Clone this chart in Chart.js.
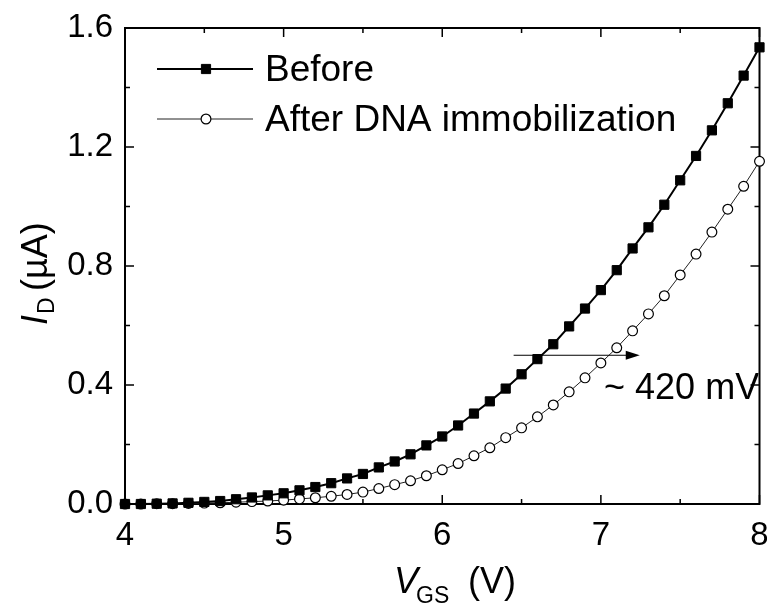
<!DOCTYPE html>
<html>
<head>
<meta charset="utf-8">
<script src="https://cdn.jsdelivr.net/npm/chart.js@4.4.0/dist/chart.umd.min.js"></script>
<style>
  html, body { margin: 0; padding: 0; background: #fff; }
  #wrap { width: 767px; height: 605px; }
</style>
</head>
<body>
<div id="wrap"><canvas id="curvaId" width="767" height="605"></canvas></div>
<script>
// V_GS sweep (V)
const vgs = [4.0, 4.1, 4.2, 4.3, 4.4, 4.5, 4.6, 4.7, 4.8, 4.9,
             5.0, 5.1, 5.2, 5.3, 5.4, 5.5, 5.6, 5.7, 5.8, 5.9,
             6.0, 6.1, 6.2, 6.3, 6.4, 6.5, 6.6, 6.7, 6.8, 6.9,
             7.0, 7.1, 7.2, 7.3, 7.4, 7.5, 7.6, 7.7, 7.8, 7.9, 8.0];

// I_D (uA) before DNA
const idBefore = [0.000, 0.000, 0.001, 0.002, 0.004, 0.007, 0.010, 0.016, 0.022, 0.029,
                  0.036, 0.046, 0.057, 0.070, 0.086, 0.101, 0.123, 0.143, 0.167, 0.197,
                  0.227, 0.264, 0.304, 0.345, 0.388, 0.436, 0.487, 0.537, 0.597, 0.657,
                  0.719, 0.786, 0.859, 0.930, 1.006, 1.088, 1.170, 1.256, 1.347, 1.440, 1.535];

// I_D (uA) after DNA immobilization
const idAfter = [0.000, 0.000, 0.001, 0.001, 0.002, 0.003, 0.004, 0.006, 0.008, 0.010,
                 0.013, 0.017, 0.021, 0.026, 0.032, 0.040, 0.052, 0.065, 0.078, 0.095,
                 0.115, 0.136, 0.162, 0.189, 0.223, 0.256, 0.293, 0.333, 0.377, 0.424,
                 0.474, 0.525, 0.582, 0.639, 0.700, 0.770, 0.840, 0.914, 0.991, 1.068, 1.152];

const seriesNames = ["Before", "After DNA immobilization"];

const xTicks = [4, 5, 6, 7, 8];
const xMinor = [4.5, 5.5, 6.5, 7.5];
const yTicks = [0, 0.4, 0.8, 1.2, 1.6];
const yMinor = [0.2, 0.6, 1.0, 1.4];

// threshold shift arrow (V, uA) and its label
const shiftFrom = [6.45, 0.5];
const shiftTo = [7.245, 0.5];
const shiftText = "~ 420 mV";
const shiftTextAt = [7.02, 0.353];

const FONT = '"Liberation Sans", Arial, Helvetica, sans-serif';

// frame with inward ticks on all four sides
const marco = {
  id: 'marco',
  beforeDatasetsDraw(chart) {
    const { ctx, chartArea: a, scales: { x, y } } = chart;
    ctx.save();
    ctx.strokeStyle = '#000';
    ctx.lineWidth = 2;
    ctx.strokeRect(a.left, a.top, a.right - a.left, a.bottom - a.top);
    ctx.lineWidth = 1.5;
    ctx.beginPath();
    const tx = (v, len) => {
      const p = x.getPixelForValue(v);
      ctx.moveTo(p, a.bottom); ctx.lineTo(p, a.bottom - len);
      ctx.moveTo(p, a.top); ctx.lineTo(p, a.top + len);
    };
    const ty = (v, len) => {
      const p = y.getPixelForValue(v);
      ctx.moveTo(a.left, p); ctx.lineTo(a.left + len, p);
      ctx.moveTo(a.right, p); ctx.lineTo(a.right - len, p);
    };
    xTicks.forEach(v => tx(v, 9));
    xMinor.forEach(v => tx(v, 5));
    yTicks.forEach(v => ty(v, 9));
    yMinor.forEach(v => ty(v, 5));
    ctx.stroke();
    ctx.restore();
  }
};

// legend rows, arrow, shift label and axis titles
const anotaciones = {
  id: 'anotaciones',
  afterDatasetsDraw(chart) {
    const { ctx, chartArea: a, scales: { x, y } } = chart;
    ctx.save();

    // legend
    const filas = [69, 119];
    chart.data.datasets.forEach((ds, i) => {
      const yy = filas[i];
      ctx.strokeStyle = ds.borderColor;
      ctx.lineWidth = ds.borderWidth;
      ctx.beginPath();
      ctx.moveTo(157, yy); ctx.lineTo(253, yy);
      ctx.stroke();
      ctx.fillStyle = ds.pointBackgroundColor;
      ctx.strokeStyle = ds.pointBorderColor;
      ctx.lineWidth = ds.pointBorderWidth;
      Chart.helpers.drawPoint(ctx, {
        pointStyle: ds.pointStyle, radius: ds.pointRadius,
        rotation: 0, borderWidth: ds.pointBorderWidth
      }, 206, yy);
      ctx.fillStyle = '#000';
      ctx.font = '37px ' + FONT;
      ctx.textAlign = 'left';
      ctx.textBaseline = 'alphabetic';
      ctx.fillText(ds.label, 265, yy + 12);
    });

    // shift arrow
    const x0 = x.getPixelForValue(shiftFrom[0]);
    const x1 = x.getPixelForValue(shiftTo[0]);
    const ya = y.getPixelForValue(shiftFrom[1]);
    ctx.strokeStyle = '#000';
    ctx.lineWidth = 1;
    ctx.beginPath();
    ctx.moveTo(x0, ya); ctx.lineTo(x1 - 10, ya);
    ctx.stroke();
    ctx.fillStyle = '#000';
    ctx.beginPath();
    ctx.moveTo(x1, ya); ctx.lineTo(x1 - 14, ya - 4.5); ctx.lineTo(x1 - 14, ya + 4.5);
    ctx.closePath();
    ctx.fill();

    // shift label, cut by the right axis
    ctx.save();
    ctx.beginPath();
    ctx.rect(a.left, a.top, a.right - a.left - 1, a.bottom - a.top);
    ctx.clip();
    ctx.font = '36px ' + FONT;
    ctx.textAlign = 'left';
    ctx.textBaseline = 'alphabetic';
    ctx.fillText(shiftText, x.getPixelForValue(shiftTextAt[0]), y.getPixelForValue(shiftTextAt[1]));
    ctx.restore();

    // x title: V_GS (V)
    ctx.textAlign = 'left';
    ctx.textBaseline = 'alphabetic';
    ctx.font = 'italic 36px ' + FONT;
    ctx.fillText('V', 394, 593);
    ctx.font = '23px ' + FONT;
    ctx.fillText('GS', 416, 603);
    ctx.font = '36px ' + FONT;
    ctx.fillText('(V)', 468, 593);

    // y title: I_D (uA), rotated
    ctx.translate(47, 325);
    ctx.rotate(-Math.PI / 2);
    ctx.font = 'italic 36px ' + FONT;
    ctx.fillText('I', 0, 0);
    ctx.font = '23px ' + FONT;
    ctx.fillText('D', 11, 7);
    ctx.font = '36px ' + FONT;
    ctx.fillText('(\u00B5A)', 34, 0);

    ctx.restore();
  }
};

Chart.defaults.font.family = FONT;
Chart.defaults.color = '#000';

new Chart(document.getElementById('curvaId'), {
  type: 'line',
  data: {
    labels: vgs,
    datasets: [
      {
        label: seriesNames[0],
        data: vgs.map((v, i) => ({ x: v, y: idBefore[i] })),
        borderColor: '#000',
        borderWidth: 2,
        pointStyle: 'rect',
        pointRadius: 6.5,
        pointBackgroundColor: '#000',
        pointBorderColor: '#000',
        pointBorderWidth: 1,
        tension: 0,
        clip: false
      },
      {
        label: seriesNames[1],
        data: vgs.map((v, i) => ({ x: v, y: idAfter[i] })),
        borderColor: '#222',
        borderWidth: 1,
        pointStyle: 'circle',
        pointRadius: 4.9,
        pointBackgroundColor: '#fff',
        pointBorderColor: '#000',
        pointBorderWidth: 1.2,
        tension: 0,
        clip: false
      }
    ]
  },
  options: {
    responsive: false,
    animation: false,
    devicePixelRatio: 1,
    layout: { padding: { top: 28, right: 7, left: 0, bottom: 0 } },
    plugins: { legend: { display: false }, tooltip: { enabled: false } },
    scales: {
      x: {
        type: 'linear',
        min: 4, max: 8,
        grid: { display: false, drawTicks: false },
        border: { display: false },
        afterBuildTicks: s => { s.ticks = xTicks.map(v => ({ value: v })); },
        afterFit: s => { s.height = 101; s.paddingLeft = 0; s.paddingRight = 0; },
        ticks: { font: { size: 33 }, color: '#000', padding: 12, maxRotation: 0 }
      },
      y: {
        min: 0, max: 1.6,
        grid: { display: false, drawTicks: false },
        border: { display: false },
        afterBuildTicks: s => { s.ticks = yTicks.map(v => ({ value: v })); },
        afterFit: s => { s.width = 125; s.paddingTop = 0; s.paddingBottom = 0; },
        ticks: { font: { size: 33 }, color: '#000', padding: 12, callback: v => v.toFixed(1) }
      }
    }
  },
  plugins: [marco, anotaciones]
});
</script>
</body>
</html>
